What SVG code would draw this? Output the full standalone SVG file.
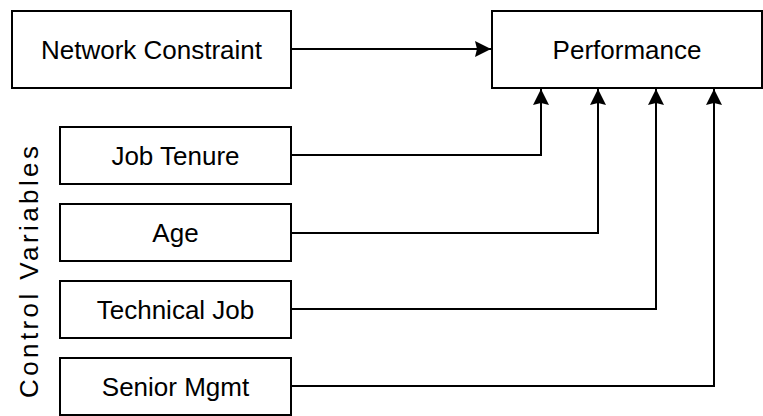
<svg xmlns="http://www.w3.org/2000/svg" width="763" height="416" viewBox="0 0 763 416">
<defs>
<style>
.box{fill:#fff;stroke:#000;stroke-width:2}
.lbl{font-family:"Liberation Sans",Arial,sans-serif;font-size:26px;fill:#000;text-anchor:middle}
.con{fill:none;stroke:#000;stroke-width:2}
</style>
<marker id="ah" viewBox="0 0 16 16" refX="16" refY="8" markerWidth="16" markerHeight="16" markerUnits="userSpaceOnUse" orient="auto">
<path d="M0,0 L16,8 L0,16 L2,8 Z" fill="#000"/>
</marker>
</defs>
<rect width="763" height="416" fill="#fff"/>
<g id="connectors">
<path class="con" d="M291,49 H491" marker-end="url(#ah)"/>
<path class="con" d="M291,155 H541 V89" marker-end="url(#ah)"/>
<path class="con" d="M291,233 H598 V89" marker-end="url(#ah)"/>
<path class="con" d="M291,309 H656 V89" marker-end="url(#ah)"/>
<path class="con" d="M291,386 H714 V89" marker-end="url(#ah)"/>
</g>
<g id="network-constraint">
<rect class="box" x="12" y="11" width="279" height="77"/>
<text class="lbl" x="151.5" y="58.5">Network Constraint</text>
</g>
<g id="performance">
<rect class="box" x="492" y="11" width="270" height="77"/>
<text class="lbl" x="627" y="58.5">Performance</text>
</g>
<g id="job-tenure">
<rect class="box" x="60" y="127" width="231" height="57"/>
<text class="lbl" x="175.5" y="164.5">Job Tenure</text>
</g>
<g id="age">
<rect class="box" x="60" y="204" width="231" height="57"/>
<text class="lbl" x="175.5" y="241.5">Age</text>
</g>
<g id="technical-job">
<rect class="box" x="60" y="281" width="231" height="57"/>
<text class="lbl" x="175.5" y="318.5">Technical Job</text>
</g>
<g id="senior-mgmt">
<rect class="box" x="60" y="358" width="231" height="57"/>
<text class="lbl" x="175.5" y="395.5">Senior Mgmt</text>
</g>
<g id="control-variables">
<text class="lbl" x="0" y="0" transform="translate(38,272) rotate(-90)" textLength="252" lengthAdjust="spacing">Control Variables</text>
</g>
</svg>
